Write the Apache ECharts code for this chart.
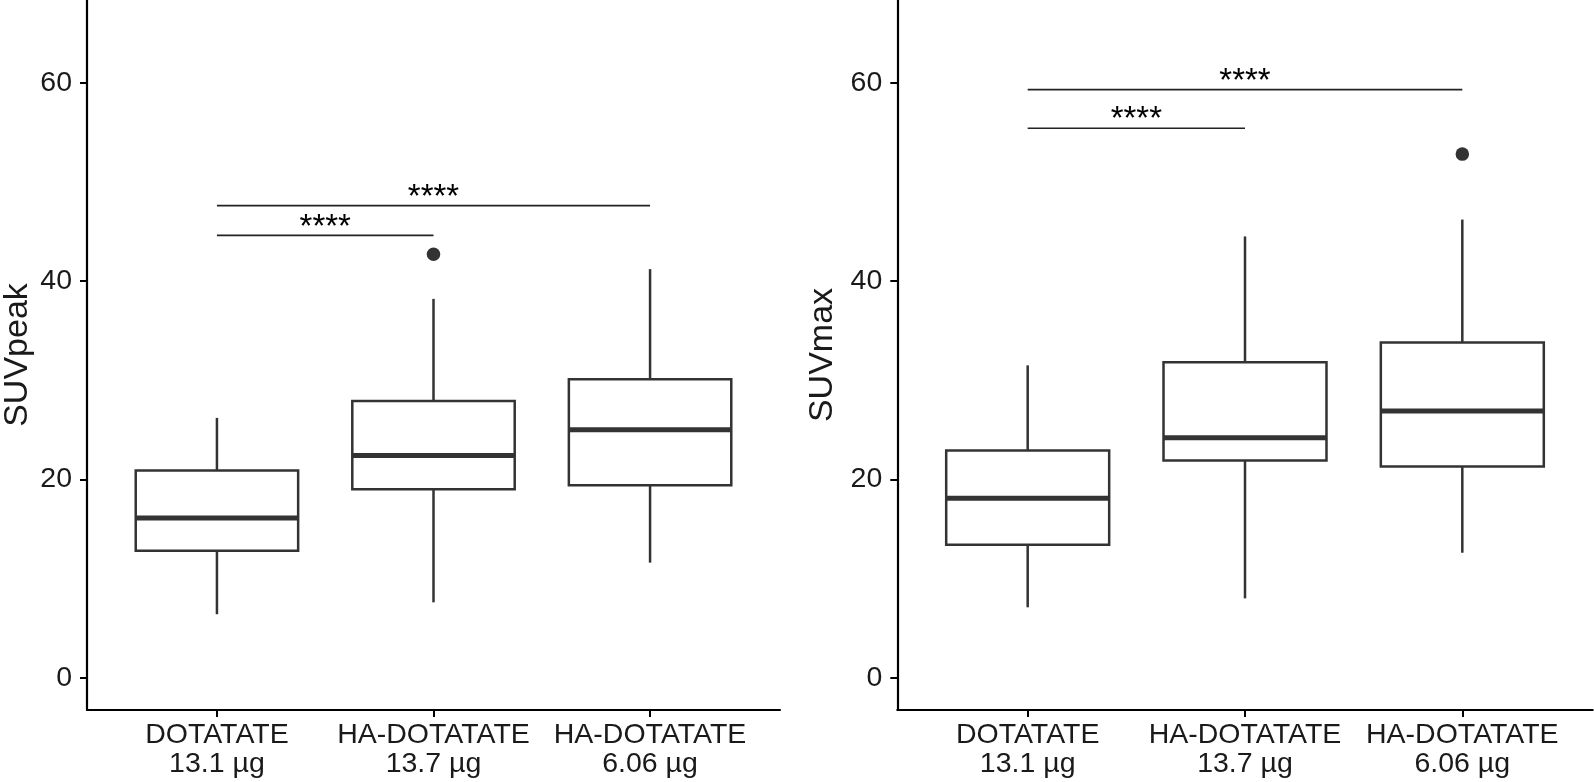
<!DOCTYPE html>
<html>
<head>
<meta charset="utf-8">
<script src="https://cdn.jsdelivr.net/npm/echarts@6/dist/echarts.min.js"></script>
<style>
html,body{margin:0;padding:0;background:#fff;}
#chart{width:1594px;height:782px;}
</style>
</head>
<body>
<div id="chart"></div>
<script>
// ---------- data ----------
const categories = ['DOTATATE\n13.1 µg', 'HA-DOTATATE\n13.7 µg', 'HA-DOTATATE\n6.06 µg'];
const catPositions = [1, 2, 3];
const yTicks = [0, 20, 40, 60];

// box stats: [lower whisker, Q1, median, Q3, upper whisker]
const suvpeakBoxes = [
  [6.4, 12.8, 16.1, 20.9, 26.2],
  [7.6, 19.0, 22.4, 27.9, 38.2],
  [11.6, 19.4, 25.0, 30.1, 41.2]
];
const suvpeakOutliers = [[2, 42.7]];
// brackets: [from position, to position, y]
const suvpeakBrackets = [[1, 2, 44.6], [1, 3, 47.6]];
const suvpeakBracketLabels = ['****', '****'];

const suvmaxBoxes = [
  [7.1, 13.4, 18.1, 22.9, 31.5],
  [8.0, 21.9, 24.2, 31.8, 44.5],
  [12.6, 21.3, 26.9, 33.8, 46.2]
];
const suvmaxOutliers = [[3, 52.8]];
const suvmaxBrackets = [[1, 2, 55.4], [1, 3, 59.3]];
const suvmaxBracketLabels = ['****', '****'];

// ---------- styling ----------
const FONT = '"Liberation Sans", Arial, Helvetica, sans-serif';
const LINE = '#333333';
const AXIS = '#000000';
const TXT = '#1a1a1a';
const BOX_W = 0.75;

function xAxisDef(gridIndex) {
  return {
    type: 'value', gridIndex, min: 0.4, max: 3.6,
    axisLine: { show: true, onZero: false, lineStyle: { color: AXIS, width: 2.2 } },
    axisTick: { show: true, length: 7, lineStyle: { color: AXIS, width: 2 }, customValues: catPositions },
    axisLabel: {
      customValues: catPositions, margin: 10,
      formatter: v => categories[Math.round(v) - 1] || '',
      fontFamily: FONT, fontSize: 28.5, lineHeight: 29.5, color: TXT, align: 'center'
    },
    splitLine: { show: false }
  };
}
function yAxisDef(gridIndex, name, gap) {
  return {
    type: 'value', gridIndex, min: -3.257, max: 68.34,
    name, nameLocation: 'middle', nameGap: gap, nameRotate: 90,
    nameTextStyle: { fontFamily: FONT, fontSize: 34, color: TXT },
    axisLine: { show: true, onZero: false, lineStyle: { color: AXIS, width: 2.2 } },
    axisTick: { show: true, length: 7, lineStyle: { color: AXIS, width: 2 }, customValues: yTicks },
    axisLabel: { customValues: yTicks, margin: 15, fontFamily: FONT, fontSize: 28.5, color: TXT },
    splitLine: { show: false }
  };
}

function boxSeries(boxes, idx) {
  return {
    type: 'custom', xAxisIndex: idx, yAxisIndex: idx,
    data: boxes.map((b, i) => [catPositions[i]].concat(b)),
    encode: { x: 0, y: [1, 2, 3, 4, 5] },
    renderItem: function (params, api) {
      const x = api.value(0);
      const lo = api.coord([x, api.value(1)]);
      const q1 = api.coord([x, api.value(2)]);
      const md = api.coord([x, api.value(3)]);
      const q3 = api.coord([x, api.value(4)]);
      const hi = api.coord([x, api.value(5)]);
      const half = api.size([BOX_W, 0])[0] / 2;
      const cx = lo[0];
      const st = { stroke: LINE, lineWidth: 2.5, fill: null };
      return {
        type: 'group',
        children: [
          { type: 'line', shape: { x1: cx, y1: q3[1], x2: cx, y2: hi[1] }, style: st },
          { type: 'line', shape: { x1: cx, y1: q1[1], x2: cx, y2: lo[1] }, style: st },
          { type: 'rect', shape: { x: cx - half, y: q3[1], width: half * 2, height: q1[1] - q3[1] },
            style: { stroke: LINE, lineWidth: 2.5, fill: '#fff' } },
          { type: 'line', shape: { x1: cx - half, y1: md[1], x2: cx + half, y2: md[1] },
            style: { stroke: LINE, lineWidth: 5 } }
        ]
      };
    },
    z: 2
  };
}
function outlierSeries(pts, idx) {
  return {
    type: 'scatter', xAxisIndex: idx, yAxisIndex: idx, data: pts,
    symbol: 'circle', symbolSize: 13.5, itemStyle: { color: LINE, opacity: 1 }, z: 3
  };
}
function bracketSeries(brs, labels, idx) {
  return {
    type: 'custom', xAxisIndex: idx, yAxisIndex: idx,
    data: brs.map((b, i) => b.concat([i])),
    encode: { x: [0, 1], y: 2 },
    renderItem: function (params, api) {
      const a = api.coord([api.value(0), api.value(2)]);
      const b = api.coord([api.value(1), api.value(2)]);
      return {
        type: 'group',
        children: [
          { type: 'line', shape: { x1: a[0], y1: a[1], x2: b[0], y2: b[1] },
            style: { stroke: '#222', lineWidth: 1.6 } },
          { type: 'text', style: {
              text: labels[api.value(3)], x: (a[0] + b[0]) / 2, y: a[1] - 8,
              align: 'center', verticalAlign: 'middle',
              fontFamily: FONT, fontSize: 33, fill: '#000' } }
        ]
      };
    },
    z: 4
  };
}

const chart = echarts.init(document.getElementById('chart'), null, { renderer: 'canvas' });
chart.setOption({
  backgroundColor: '#fff',
  animation: false,
  grid: [
    { left: 85.5, top: 0, width: 694.5, height: 710 },
    { left: 897.3, top: 0, width: 695.4, height: 710 }
  ],
  xAxis: [xAxisDef(0), xAxisDef(1)],
  yAxis: [yAxisDef(0, 'SUVpeak', 52), yAxisDef(1, 'SUVmax', 58)],
  series: [
    boxSeries(suvpeakBoxes, 0), outlierSeries(suvpeakOutliers, 0), bracketSeries(suvpeakBrackets, suvpeakBracketLabels, 0),
    boxSeries(suvmaxBoxes, 1), outlierSeries(suvmaxOutliers, 1), bracketSeries(suvmaxBrackets, suvmaxBracketLabels, 1)
  ]
});
</script>
</body>
</html>
